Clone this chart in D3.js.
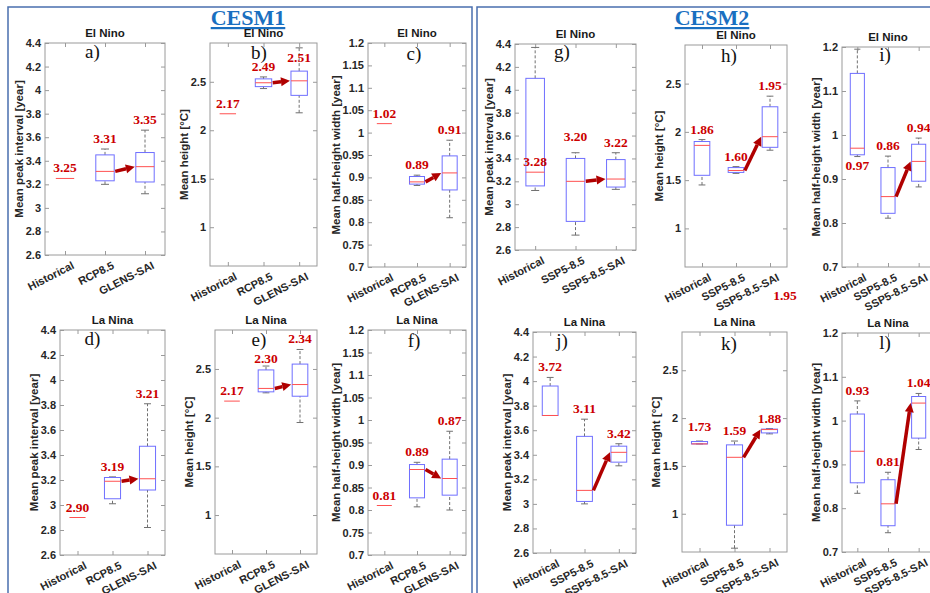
<!DOCTYPE html>
<html>
<head>
<meta charset="utf-8">
<script src="https://cdn.jsdelivr.net/npm/d3@7"></script>
<style>
body { margin: 0; background: #fff; }
svg { display: block; }
</style>
</head>
<body>
<svg></svg>
<script>
const svg = d3.select('svg')
	.attr('width', 930)
	.attr('height', 593);

// categories
const cesm1Cats = ['Historical', 'RCP8.5', 'GLENS-SAI'];
const cesm2Cats = ['Historical', 'SSP5-8.5', 'SSP5-8.5-SAI'];

// box stats per category: [whisker low, q1, median, q3, whisker high]
const peakNino1 = [[3.25, 3.25, 3.25, 3.25, 3.25], [3.20, 3.23, 3.31, 3.45, 3.50], [3.12, 3.22, 3.35, 3.47, 3.66]];
const heightNino1 = [[2.17, 2.17, 2.17, 2.17, 2.17], [2.43, 2.45, 2.49, 2.53, 2.55], [2.18, 2.36, 2.51, 2.61, 2.85]];
const widthNino1 = [[1.02, 1.02, 1.02, 1.02, 1.02], [0.882, 0.885, 0.89, 0.902, 0.905], [0.81, 0.872, 0.91, 0.948, 0.983]];
const peakNina1 = [[2.90, 2.90, 2.90, 2.90, 2.90], [3.01, 3.05, 3.19, 3.22, 3.225], [2.82, 3.12, 3.21, 3.47, 3.81]];
const heightNina1 = [[2.17, 2.17, 2.17, 2.17, 2.17], [2.255, 2.265, 2.30, 2.49, 2.53], [1.95, 2.22, 2.34, 2.55, 2.70]];
const widthNina1 = [[0.81, 0.81, 0.81, 0.81, 0.81], [0.807, 0.827, 0.89, 0.901, 0.906], [0.80, 0.833, 0.87, 0.913, 0.975]];

const peakNino2 = [[3.12, 3.16, 3.28, 4.10, 4.37], [2.73, 2.85, 3.20, 3.40, 3.45], [3.13, 3.15, 3.22, 3.39, 3.45]];
const heightNino2 = [[1.45, 1.55, 1.86, 1.90, 1.92], [1.57, 1.58, 1.60, 1.63, 1.64], [1.81, 1.84, 1.95, 2.26, 2.37]];
const widthNino2 = [[0.951, 0.955, 0.97, 1.14, 1.195], [0.811, 0.822, 0.86, 0.926, 0.952], [0.882, 0.895, 0.94, 0.979, 0.993]];
const peakNina2 = [[3.72, 3.72, 3.72, 3.96, 4.03], [3.00, 3.02, 3.11, 3.55, 3.69], [3.31, 3.34, 3.42, 3.47, 3.49]];
const heightNina2 = [[1.73, 1.73, 1.73, 1.755, 1.76], [0.64, 0.88, 1.59, 1.72, 1.76], [1.835, 1.845, 1.88, 1.885, 1.89]];
const widthNina2 = [[0.834, 0.858, 0.93, 1.015, 1.045], [0.744, 0.76, 0.81, 0.865, 0.882], [0.934, 0.96, 1.04, 1.055, 1.062]];

// tick labels
const peakTicks = [2.6, 2.8, 3, 3.2, 3.4, 3.6, 3.8, 4, 4.2, 4.4];
const heightTicks = [1, 1.5, 2, 2.5];
const widthTicks1 = [0.7, 0.75, 0.8, 0.85, 0.9, 0.95, 1, 1.05, 1.1, 1.15, 1.2];
const widthTicks2 = [0.7, 0.8, 0.9, 1, 1.1, 1.2];

const peakLabel = 'Mean peak interval [year]',
	heightLabel = 'Mean height [°C]',
	widthLabel = 'Mean half-height width [year]';

// layout: plot box [left, top, right, bottom], panel letter position
const panels = [
	{ id: 'a', stats: peakNino1, cats: cesm1Cats, ticks: peakTicks, dom: [2.6, 4.4], ylab: peakLabel, title: 'El Nino', box: [45, 43, 165, 255], lx: 92.5, ly: 58 },
	{ id: 'b', stats: heightNino1, cats: cesm1Cats, ticks: heightTicks, dom: [0.6, 2.9], ylab: heightLabel, title: 'El Nino', box: [210, 43, 317, 266], lx: 259, ly: 59 },
	{ id: 'c', stats: widthNino1, cats: cesm1Cats, ticks: widthTicks1, dom: [0.7, 1.2], ylab: widthLabel, title: 'El Nino', box: [368, 43, 466, 267], lx: 414, ly: 60 },
	{ id: 'd', stats: peakNina1, cats: cesm1Cats, ticks: peakTicks, dom: [2.6, 4.4], ylab: peakLabel, title: 'La Nina', box: [60, 330, 165, 555], lx: 92.5, ly: 345 },
	{ id: 'e', stats: heightNina1, cats: cesm1Cats, ticks: heightTicks, dom: [0.6, 2.9], ylab: heightLabel, title: 'La Nina', box: [215, 330, 317, 554], lx: 259, ly: 346 },
	{ id: 'f', stats: widthNina1, cats: cesm1Cats, ticks: widthTicks1, dom: [0.7, 1.2], ylab: widthLabel, title: 'La Nina', box: [368, 330, 466, 555], lx: 414, ly: 347 },
	{ id: 'g', stats: peakNino2, cats: cesm2Cats, ticks: peakTicks, dom: [2.6, 4.4], ylab: peakLabel, title: 'El Nino', box: [515, 44, 636, 250], lx: 562, ly: 58 },
	{ id: 'h', stats: heightNino2, cats: cesm2Cats, ticks: heightTicks, dom: [0.6, 2.9], ylab: heightLabel, title: 'El Nino', box: [685, 45, 787, 267], lx: 729, ly: 62 },
	{ id: 'i', stats: widthNino2, cats: cesm2Cats, ticks: widthTicks2, dom: [0.7, 1.2], ylab: 'Mean  half-height width [year]', title: 'El Nino', box: [842, 47, 934, 267], lx: 885, ly: 61 },
	{ id: 'j', stats: peakNina2, cats: cesm2Cats, ticks: peakTicks, dom: [2.6, 4.4], ylab: peakLabel, title: 'La Nina', box: [533, 332, 636, 553], lx: 562, ly: 347 },
	{ id: 'k', stats: heightNina2, cats: cesm2Cats, ticks: heightTicks, dom: [0.6, 2.9], ylab: heightLabel, title: 'La Nina', box: [682, 332, 787, 552], lx: 729, ly: 350 },
	{ id: 'l', stats: widthNina2, cats: cesm2Cats, ticks: widthTicks2, dom: [0.7, 1.2], ylab: widthLabel, title: 'La Nina', box: [842, 333, 934, 552], lx: 885, ly: 349 }
];

// where a median label sits, when not just above the top whisker
const labelPlace = {
	b2: { ref: 4, dy: 14 },
	e1: { ref: 4, dy: -3 },
	g0: { ref: 2, dy: -6 },
	g1: { ref: 4, dy: -12 },
	i0: { ref: 0, dy: 13 },
	k0: { ref: 4, dy: -10 }
};

const sans = 'Liberation Sans, Arial, sans-serif',
	serif = 'Liberation Serif, Times New Roman, serif',
	red = '#cc0000',
	darkRed = '#b00000';

// group frames
svg.append('rect').attr('x', 8).attr('y', 7).attr('width', 464).attr('height', 620)
	.attr('fill', 'none').attr('stroke', '#4a6fae').attr('stroke-width', 1.5);
svg.append('rect').attr('x', 477).attr('y', 7).attr('width', 480).attr('height', 620)
	.attr('fill', 'none').attr('stroke', '#4a6fae').attr('stroke-width', 1.5);

[['CESM1', 248], ['CESM2', 712]].forEach(([t, cx]) => {
	svg.append('text')
		.attr('x', cx).attr('y', 25)
		.attr('text-anchor', 'middle')
		.attr('font-family', serif).attr('font-weight', 'bold').attr('font-size', 22)
		.attr('fill', '#1a6fc0')
		.attr('text-decoration', 'underline')
		.text(t);
});

const fmtTick = v => String(+v.toFixed(2));

const drawArrow = (g, x0, y0, x1, y1) => {
	const ang = Math.atan2(y1 - y0, x1 - x0),
		head = 9, half = 4.5;
	const bx = x1 - head * Math.cos(ang), by = y1 - head * Math.sin(ang);
	g.append('line')
		.attr('x1', x0).attr('y1', y0).attr('x2', bx).attr('y2', by)
		.attr('stroke', darkRed).attr('stroke-width', 3.5);
	const px = -Math.sin(ang) * half, py = Math.cos(ang) * half;
	g.append('path')
		.attr('d', `M${x1},${y1}L${bx + px},${by + py}L${bx - px},${by - py}Z`)
		.attr('fill', darkRed);
};

panels.forEach(p => {
	const [x0, y0, x1, y1] = p.box;
	const xScale = d3.scaleLinear().domain([0.5, 3.5]).range([x0, x1]);
	const yScale = d3.scaleLinear().domain(p.dom).range([y1, y0]);
	const g = svg.append('g');
	const halfW = 0.23, capW = 0.1;

	// axes, MATLAB style ticks pointing inward
	const yAxisG = g.append('g')
		.attr('transform', `translate(${x0},0)`)
		.call(d3.axisLeft(yScale).tickValues(p.ticks).tickSize(-4).tickPadding(4).tickFormat(fmtTick));
	g.append('g')
		.attr('transform', `translate(${x1},0)`)
		.call(d3.axisRight(yScale).tickValues(p.ticks).tickSize(-4).tickFormat(''));
	g.append('g')
		.attr('transform', `translate(0,${y0})`)
		.call(d3.axisTop(xScale).tickValues([1, 2, 3]).tickSize(-4).tickFormat(''));
	const xAxisG = g.append('g')
		.attr('transform', `translate(0,${y1})`)
		.call(d3.axisBottom(xScale).tickValues([1, 2, 3]).tickSize(-4).tickFormat(i => p.cats[i - 1]));

	g.selectAll('.domain').remove();
	g.selectAll('.tick line').attr('stroke', '#9a9a9a');
	g.selectAll('.tick text')
		.attr('fill', '#262626')
		.attr('font-family', sans)
		.attr('font-weight', 'bold')
		.attr('font-size', 11);

	xAxisG.selectAll('.tick text')
		.attr('x', 0).attr('y', 0).attr('dy', '0.7em')
		.attr('text-anchor', 'end')
		.attr('transform', 'translate(6,6) rotate(-27)');

	g.append('rect')
		.attr('x', x0).attr('y', y0)
		.attr('width', x1 - x0).attr('height', y1 - y0)
		.attr('fill', 'none').attr('stroke', '#9a9a9a');

	// y label, just left of the tick labels
	const tb = yAxisG.node().getBBox();
	g.append('text')
		.attr('transform', `translate(${x0 + tb.x - 3},${(y0 + y1) / 2}) rotate(-90)`)
		.attr('text-anchor', 'middle')
		.attr('font-family', sans).attr('font-weight', 'bold').attr('font-size', 11.5)
		.attr('fill', '#262626')
		.text(p.ylab);

	g.append('text')
		.attr('x', (x0 + x1) / 2).attr('y', y0 - 6)
		.attr('text-anchor', 'middle')
		.attr('font-family', sans).attr('font-weight', 'bold').attr('font-size', 11.5)
		.attr('fill', '#1a1a1a')
		.text(p.title);

	g.append('text')
		.attr('x', p.lx).attr('y', p.ly)
		.attr('text-anchor', 'middle')
		.attr('font-family', serif).attr('font-size', 19)
		.attr('fill', '#111')
		.text(p.id + ')');

	// boxes
	p.stats.forEach((s, i) => {
		const cx = i + 1;
		const [lo, q1, med, q3, hi] = s;
		const hasBox = q3 > q1 || hi > lo;
		if (hasBox) {
			[[lo, q1], [q3, hi]].forEach(([a, b]) => {
				if (b > a) {
					g.append('line')
						.attr('x1', xScale(cx)).attr('x2', xScale(cx))
						.attr('y1', yScale(a)).attr('y2', yScale(b))
						.attr('stroke', '#707070').attr('stroke-dasharray', '3,2');
				}
			});
			[lo, hi].forEach(v => {
				g.append('line')
					.attr('x1', xScale(cx - capW)).attr('x2', xScale(cx + capW))
					.attr('y1', yScale(v)).attr('y2', yScale(v))
					.attr('stroke', '#707070');
			});
			g.append('rect')
				.attr('x', xScale(cx - halfW)).attr('y', yScale(q3))
				.attr('width', xScale(cx + halfW) - xScale(cx - halfW))
				.attr('height', Math.max(yScale(q1) - yScale(q3), 0.5))
				.attr('fill', 'none').attr('stroke', '#6f6fff');
		}
		g.append('line')
			.attr('x1', xScale(cx - halfW)).attr('x2', xScale(cx + halfW))
			.attr('y1', yScale(med)).attr('y2', yScale(med))
			.attr('stroke', '#ff5050');

		const place = labelPlace[p.id + i] || { ref: 4, dy: -6 };
		g.append('text')
			.attr('x', xScale(cx)).attr('y', yScale(s[place.ref]) + place.dy)
			.attr('text-anchor', 'middle')
			.attr('font-family', serif).attr('font-weight', 'bold').attr('font-size', 13.5)
			.attr('fill', red)
			.text(med.toFixed(2));
	});

	// arrow from scenario median to SAI median
	const m2 = p.stats[1][2], m3 = p.stats[2][2];
	drawArrow(g,
		xScale(2 + halfW) + 1, yScale(m2),
		xScale(3 - halfW) - 1, yScale(m3));
});

// stray label below panel h
svg.append('text')
	.attr('x', 785).attr('y', 300)
	.attr('text-anchor', 'middle')
	.attr('font-family', serif).attr('font-weight', 'bold').attr('font-size', 13.5)
	.attr('fill', red)
	.text(heightNino2[2][2].toFixed(2));
</script>
</body>
</html>
